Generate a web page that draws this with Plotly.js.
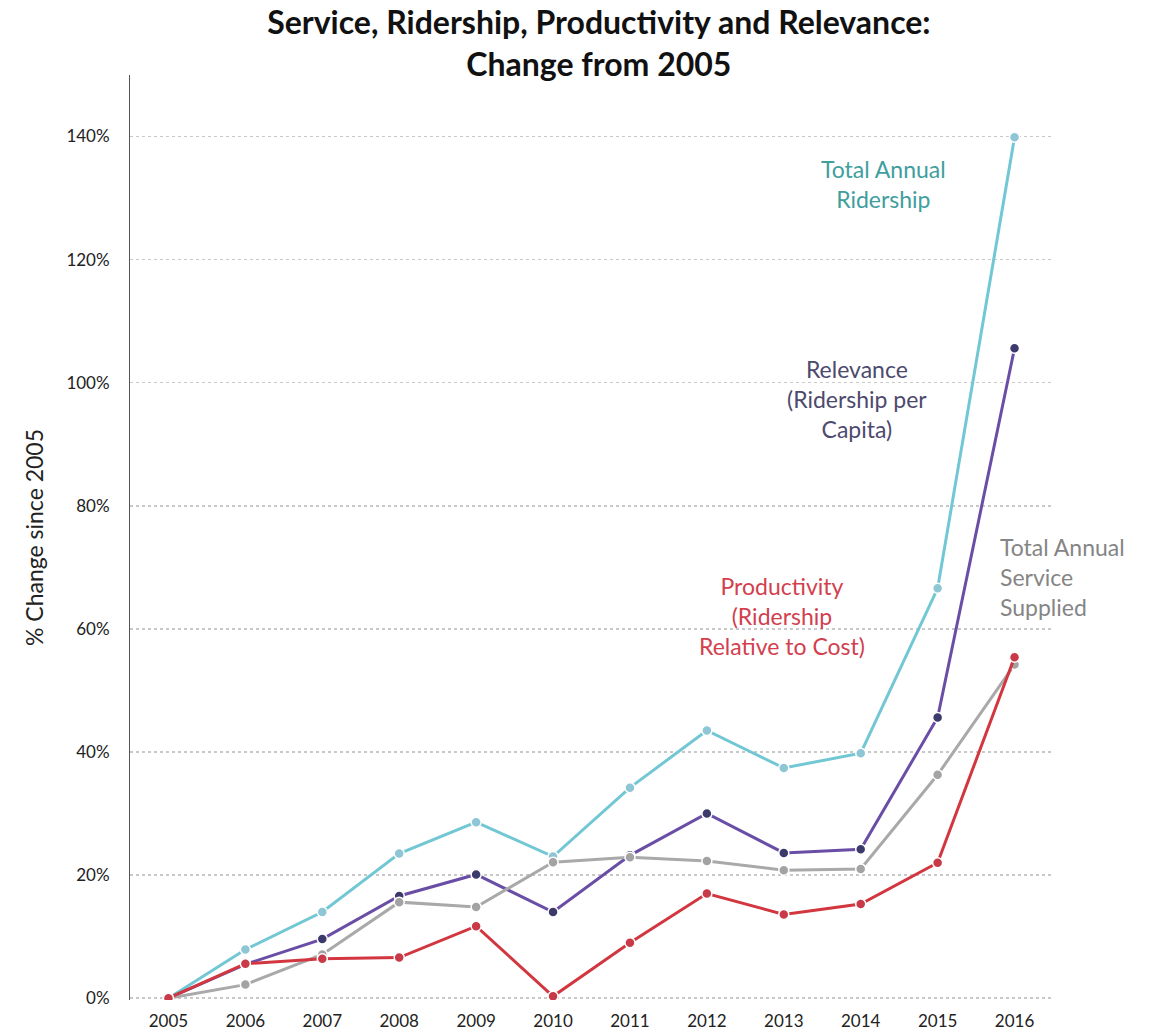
<!DOCTYPE html>
<html>
<head>
<meta charset="utf-8">
<script src="https://cdn.plot.ly/plotly-3.0.1.min.js"></script>
<style>html,body{margin:0;padding:0;background:#fff;}#chart{width:1173px;height:1034px;}</style>
</head>
<body>
<div id="chart"></div>
<script>
const years = [2005, 2006, 2007, 2008, 2009, 2010, 2011, 2012, 2013, 2014, 2015, 2016];
const totalRidership = [0, 7.9, 14.0, 23.5, 28.6, 23.0, 34.2, 43.5, 37.4, 39.8, 66.6, 139.9];
const relevance = [0, 5.5, 9.6, 16.6, 20.1, 14.0, 23.2, 30.0, 23.6, 24.2, 45.6, 105.6];
const serviceSupplied = [0, 2.2, 7.1, 15.6, 14.8, 22.1, 22.9, 22.3, 20.8, 21.0, 36.3, 54.2];
const productivity = [0, 5.6, 6.4, 6.6, 11.7, 0.3, 9.0, 17.0, 13.6, 15.3, 22.0, 55.4];
const yTickVals = [0, 20, 40, 60, 80, 100, 120, 140];
const yTickText = ['0%', '20%', '40%', '60%', '80%', '100%', '120%', '140%'];

const FONT = 'Lato, "Open Sans", sans-serif';

function series(y, lineColor, markerColor, name) {
  return {
    x: years, y: y, name: name, type: 'scatter', mode: 'lines+markers',
    line: {color: lineColor, width: 3},
    marker: {color: markerColor, size: 10, line: {color: '#ffffff', width: 1.5}},
    hoverinfo: 'x+y'
  };
}

const data = [
  series(totalRidership, '#72c7d4', '#8ec6d6', 'Total Annual Ridership'),
  series(relevance, '#6a4ea6', '#3b3a6b', 'Relevance'),
  series(serviceSupplied, '#a9a9a9', '#a3a3a3', 'Total Annual Service Supplied'),
  series(productivity, '#d2363f', '#c83a48', 'Productivity')
];

const annFont = (c) => ({family: FONT, size: 23, color: c});
const layout = {
  width: 1173, height: 1034,
  margin: {l: 130, r: 120, t: 75, b: 34},
  paper_bgcolor: '#ffffff', plot_bgcolor: '#ffffff',
  showlegend: false,
  title: {
    text: '<b>Service, Ridership, Productivity and Relevance:<br>Change from 2005</b>',
    font: {family: FONT, size: 32, color: '#111111'},
    x: 0.508, xanchor: 'center', xref: 'paper',
    yref: 'container', y: 1 - 34/1034, yanchor: 'middle'
  },
  xaxis: {
    range: [2004.5, 2016.5],
    tickvals: years,
    ticktext: years.map(String),
    showgrid: false, zeroline: false, showline: false,
    ticks: 'outside', ticklen: 6, tickcolor: 'rgba(0,0,0,0)',
    tickfont: {family: FONT, size: 17, color: '#222222'}
  },
  yaxis: {
    range: [-0.3, 150],
    tickvals: yTickVals, ticktext: yTickText,
    showgrid: true, gridcolor: '#c8c8c8', griddash: 'dot', gridwidth: 1.5,
    zeroline: false,
    showline: true, linecolor: '#555555', linewidth: 1,
    ticks: 'outside', ticklen: 16, tickcolor: 'rgba(0,0,0,0)',
    tickfont: {family: FONT, size: 17, color: '#222222'},
    title: {text: '% Change since 2005', font: {family: FONT, size: 23, color: '#222222'}, standoff: 16}
  },
  annotations: [
    {text: 'Total Annual<br>Ridership', xref: 'paper', yref: 'paper', x: (883-130)/923, y: (1000-184)/925,
     xanchor: 'center', yanchor: 'middle', showarrow: false, font: annFont('#3f9e9e')},
    {text: 'Relevance<br>(Ridership per<br>Capita)', xref: 'paper', yref: 'paper', x: (857-130)/923, y: (1000-399)/925,
     xanchor: 'center', yanchor: 'middle', showarrow: false, font: annFont('#4d4a6e')},
    {text: 'Total Annual<br>Service<br>Supplied', xref: 'paper', yref: 'paper', x: (998-130)/923, y: (1000-577)/925,
     xanchor: 'left', yanchor: 'middle', align: 'left', showarrow: false, font: annFont('#858585')},
    {text: 'Productivity<br>(Ridership<br>Relative to Cost)', xref: 'paper', yref: 'paper', x: (782-130)/923, y: (1000-616)/925,
     xanchor: 'center', yanchor: 'middle', showarrow: false, font: annFont('#d2404e')}
  ]
};

Plotly.newPlot('chart', data, layout, {displayModeBar: false, staticPlot: true});
</script>
</body>
</html>
